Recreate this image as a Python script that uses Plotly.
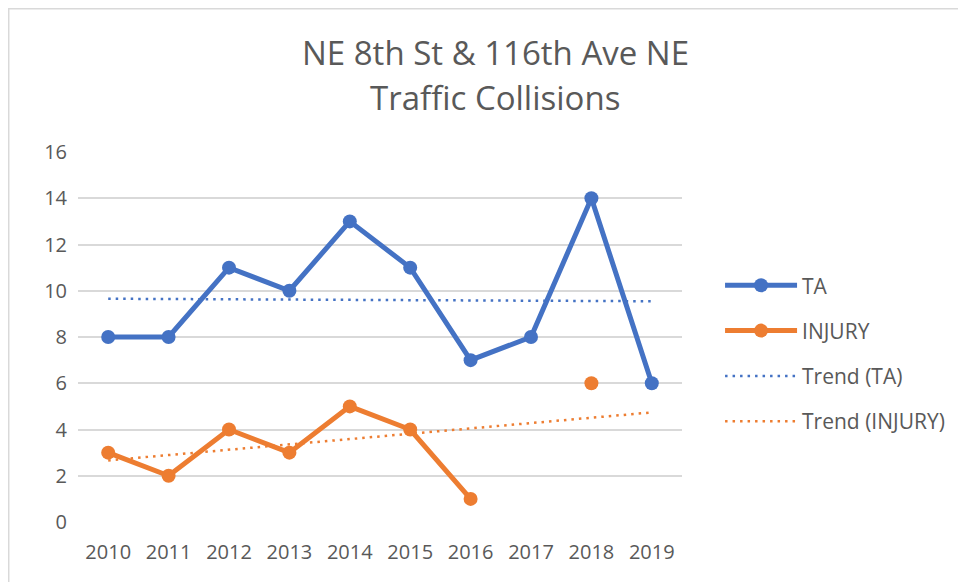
import numpy as np
import plotly.graph_objects as go

years = ["2010", "2011", "2012", "2013", "2014", "2015", "2016", "2017", "2018", "2019"]
ta = [8, 8, 11, 10, 13, 11, 7, 8, 14, 6]
injury = [3, 2, 4, 3, 5, 4, 1, None, 6, None]

BLUE = "#4472C4"
ORANGE = "#ED7D31"
GRAY = "#595959"
FONT = "Open Sans, Noto Sans, sans-serif"


def trend(values):
    idx = np.array([i for i, v in enumerate(values) if v is not None], dtype=float)
    vals = np.array([v for v in values if v is not None], dtype=float)
    slope, intercept = np.polyfit(idx, vals, 1)
    xs = np.arange(len(values))
    return list(slope * xs + intercept)


fig = go.Figure()
fig.add_trace(go.Scatter(x=years, y=ta, name="TA", mode="lines+markers",
                         line=dict(color=BLUE, width=5), marker=dict(size=14, color=BLUE),
                         legendgroup="a"))
fig.add_trace(go.Scatter(x=years, y=injury, name="INJURY", mode="lines+markers",
                         line=dict(color=ORANGE, width=5), marker=dict(size=14, color=ORANGE),
                         legendgroup="b", connectgaps=False))
fig.add_trace(go.Scatter(x=years, y=trend(ta), name="Trend (TA)", mode="lines",
                         line=dict(color=BLUE, width=2.5, dash="2.5px,5px"), legendgroup="c"))
fig.add_trace(go.Scatter(x=years, y=trend(injury), name="Trend (INJURY)", mode="lines",
                         line=dict(color=ORANGE, width=2.5, dash="2.5px,5px"), legendgroup="d"))

fig.update_layout(
    width=958, height=574,
    margin=dict(l=70, r=284, t=144, b=60),
    paper_bgcolor="white", plot_bgcolor="white",
    font=dict(family=FONT, color=GRAY, size=20),
    showlegend=True,
    legend=dict(x=1.063, y=0.455, xanchor="left", yanchor="middle",
                font=dict(size=21, color=GRAY), tracegroupgap=15,
                traceorder="grouped", itemwidth=72),
    xaxis=dict(type="category", range=[-0.5, 9.5], showgrid=False, showline=False,
               ticks="", tickfont=dict(size=20, color=GRAY), ticklabelstandoff=16,
               zeroline=False),
    yaxis=dict(range=[0, 16], dtick=2, showgrid=True, gridcolor="#D9D9D9", gridwidth=2,
               zeroline=False, showline=False, tickfont=dict(size=20, color=GRAY),
               ticklabelstandoff=10),
    annotations=[
        dict(text="NE 8th St & 116th Ave NE", xref="paper", yref="paper", x=0.691, y=1.27,
             showarrow=False, font=dict(size=33, color=GRAY), xanchor="center", yanchor="middle"),
        dict(text="Traffic Collisions", xref="paper", yref="paper", x=0.691, y=1.1486,
             showarrow=False, font=dict(size=33, color=GRAY), xanchor="center", yanchor="middle"),
    ],
    shapes=[dict(type="rect", xref="paper", yref="paper", x0=-0.1147, x1=2, y0=-0.5, y1=1.387,
                 line=dict(color="#D9D9D9", width=1.5), fillcolor="rgba(0,0,0,0)", layer="below")],
)

fig.write_html("out.html")
